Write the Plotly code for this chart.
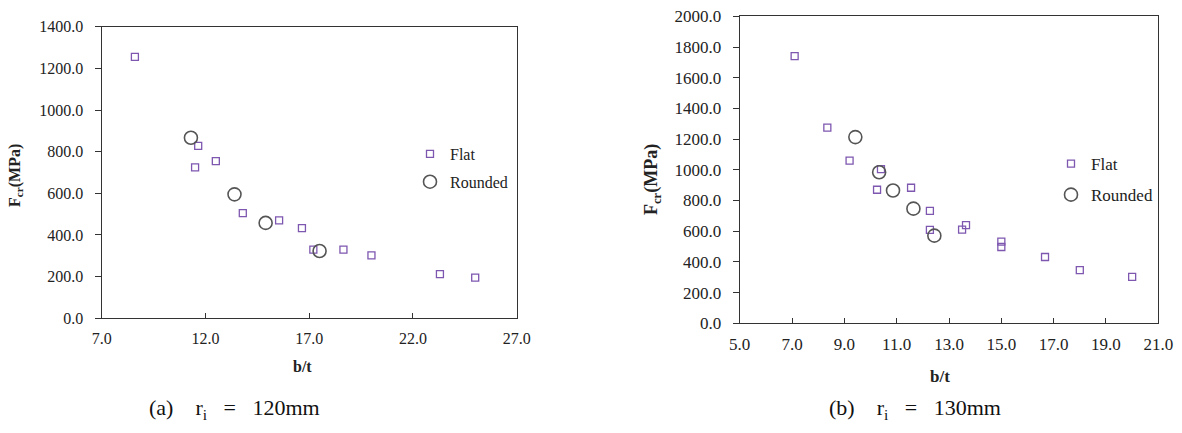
import plotly.graph_objects as go

# ---- data: (a) r_i = 120 mm ----
a_flat_x = [8.6, 11.65, 11.5, 12.5, 13.8, 15.55, 16.65, 17.2, 18.65, 20.0, 23.3, 25.0]
a_flat_y = [1255, 828, 725, 755, 505, 470, 433, 330, 330, 302, 212, 195]
a_round_x = [11.3, 13.4, 14.9, 17.5]
a_round_y = [867, 595, 458, 323]

# ---- data: (b) r_i = 130 mm ----
b_flat_x = [7.1, 8.35, 9.2, 10.4, 10.25, 11.55, 12.27, 12.27, 13.5, 13.65, 15.0, 15.0, 16.67, 18.0, 20.0]
b_flat_y = [1740, 1275, 1060, 1005, 870, 883, 732, 608, 610, 640, 532, 497, 432, 347, 302]
b_round_x = [9.42, 10.33, 10.86, 11.64, 12.44]
b_round_y = [1213, 984, 865, 747, 571]

W, H = 1182, 433
FONT = "Liberation Serif, Times New Roman, DejaVu Serif, serif"
PURPLE = "#7e57b0"
GREY = "#555555"
AXC = "#333333"
TXT = "#222222"

fig = go.Figure()

def flat(x, y, xa, ya, leg):
    return go.Scatter(x=x, y=y, mode="markers", name="Flat", xaxis=xa, yaxis=ya, legend=leg,
                      legendgroup="flat" + leg,
                      marker=dict(symbol="square-open", size=7, color=PURPLE, line=dict(width=1.3)))

def rnd(x, y, xa, ya, leg):
    return go.Scatter(x=x, y=y, mode="markers", name="Rounded", xaxis=xa, yaxis=ya, legend=leg,
                      legendgroup="round" + leg,
                      marker=dict(symbol="circle-open", size=13, color=GREY, line=dict(width=1.6)))

fig.add_trace(flat(a_flat_x, a_flat_y, "x", "y", "legend"))
fig.add_trace(rnd(a_round_x, a_round_y, "x", "y", "legend"))
fig.add_trace(flat(b_flat_x, b_flat_y, "x2", "y2", "legend2"))
fig.add_trace(rnd(b_round_x, b_round_y, "x2", "y2", "legend2"))

def axstyle(kind, size):
    d = dict(showline=True, linecolor=AXC, linewidth=1.3, mirror=True, showgrid=False, zeroline=False,
             tickcolor=AXC, tickformat=".1f", tickfont=dict(family=FONT, size=size, color=TXT),
             fixedrange=True, automargin=False)
    if kind == "x":
        d.update(ticks="inside", ticklen=5, ticklabelstandoff=5)
    else:
        d.update(ticks="outside", ticklen=6, ticklabelstandoff=8)
    return d

fig.update_layout(
    width=W, height=H, margin=dict(l=0, r=0, t=0, b=0, autoexpand=False),
    paper_bgcolor="white", plot_bgcolor="white",
    font=dict(family=FONT, color=TXT),
    xaxis=dict(domain=[101.7 / W, 516.7 / W], range=[7, 27], dtick=5, tick0=7, anchor="y", **axstyle("x", 16)),
    yaxis=dict(domain=[1 - 318.3 / H, 1 - 26.7 / H], range=[0, 1400], dtick=200, anchor="x", **axstyle("y", 16)),
    xaxis2=dict(domain=[739.7 / W, 1158.3 / W], range=[5, 21], dtick=2, tick0=5, anchor="y2", **axstyle("x", 17)),
    yaxis2=dict(domain=[1 - 323.3 / H, 1 - 16.3 / H], range=[0, 2000], dtick=200, anchor="x2", **axstyle("y", 17)),
    legend=dict(x=410 / W, y=1 - 137 / H, xanchor="left", yanchor="top", bgcolor="rgba(0,0,0,0)",
                font=dict(family=FONT, size=16, color=TXT), itemwidth=30, tracegroupgap=4),
    legend2=dict(x=1051 / W, y=1 - 146 / H, xanchor="left", yanchor="top", bgcolor="rgba(0,0,0,0)",
                 font=dict(family=FONT, size=17, color=TXT), itemwidth=30, tracegroupgap=6),
)

def label(x, y, text, size, angle=0, color=TXT):
    return dict(x=x / W, y=1 - y / H, xref="paper", yref="paper", text=text, textangle=angle,
                xanchor="center", yanchor="middle", showarrow=False,
                font=dict(family=FONT, size=size, color=color))

SP3 = "&nbsp;" * 4
SP2 = "&nbsp;" * 3
ann = [
    label(15, 176, "<b>F<sub>cr</sub>(MPa)</b>", 16, -90),
    label(652, 180, "<b>F<sub>cr</sub>(MPa)</b>", 18, -90),
    label(302, 366, "<b>b/t</b>", 16),
    label(940, 376, "<b>b/t</b>", 17),
    label(234, 409, "(a)" + SP3 + "r<sub>i</sub>" + SP2 + "=" + SP2 + "120mm", 22, 0, "#111111"),
    label(914.5, 409, "(b)" + SP3 + "r<sub>i</sub>" + SP2 + "=" + SP2 + "130mm", 22, 0, "#111111"),
]
fig.update_layout(annotations=ann)

fig.write_html("out.html", config={"displayModeBar": False},
               post_script="document.body.style.margin='0';document.body.style.padding='0';")
